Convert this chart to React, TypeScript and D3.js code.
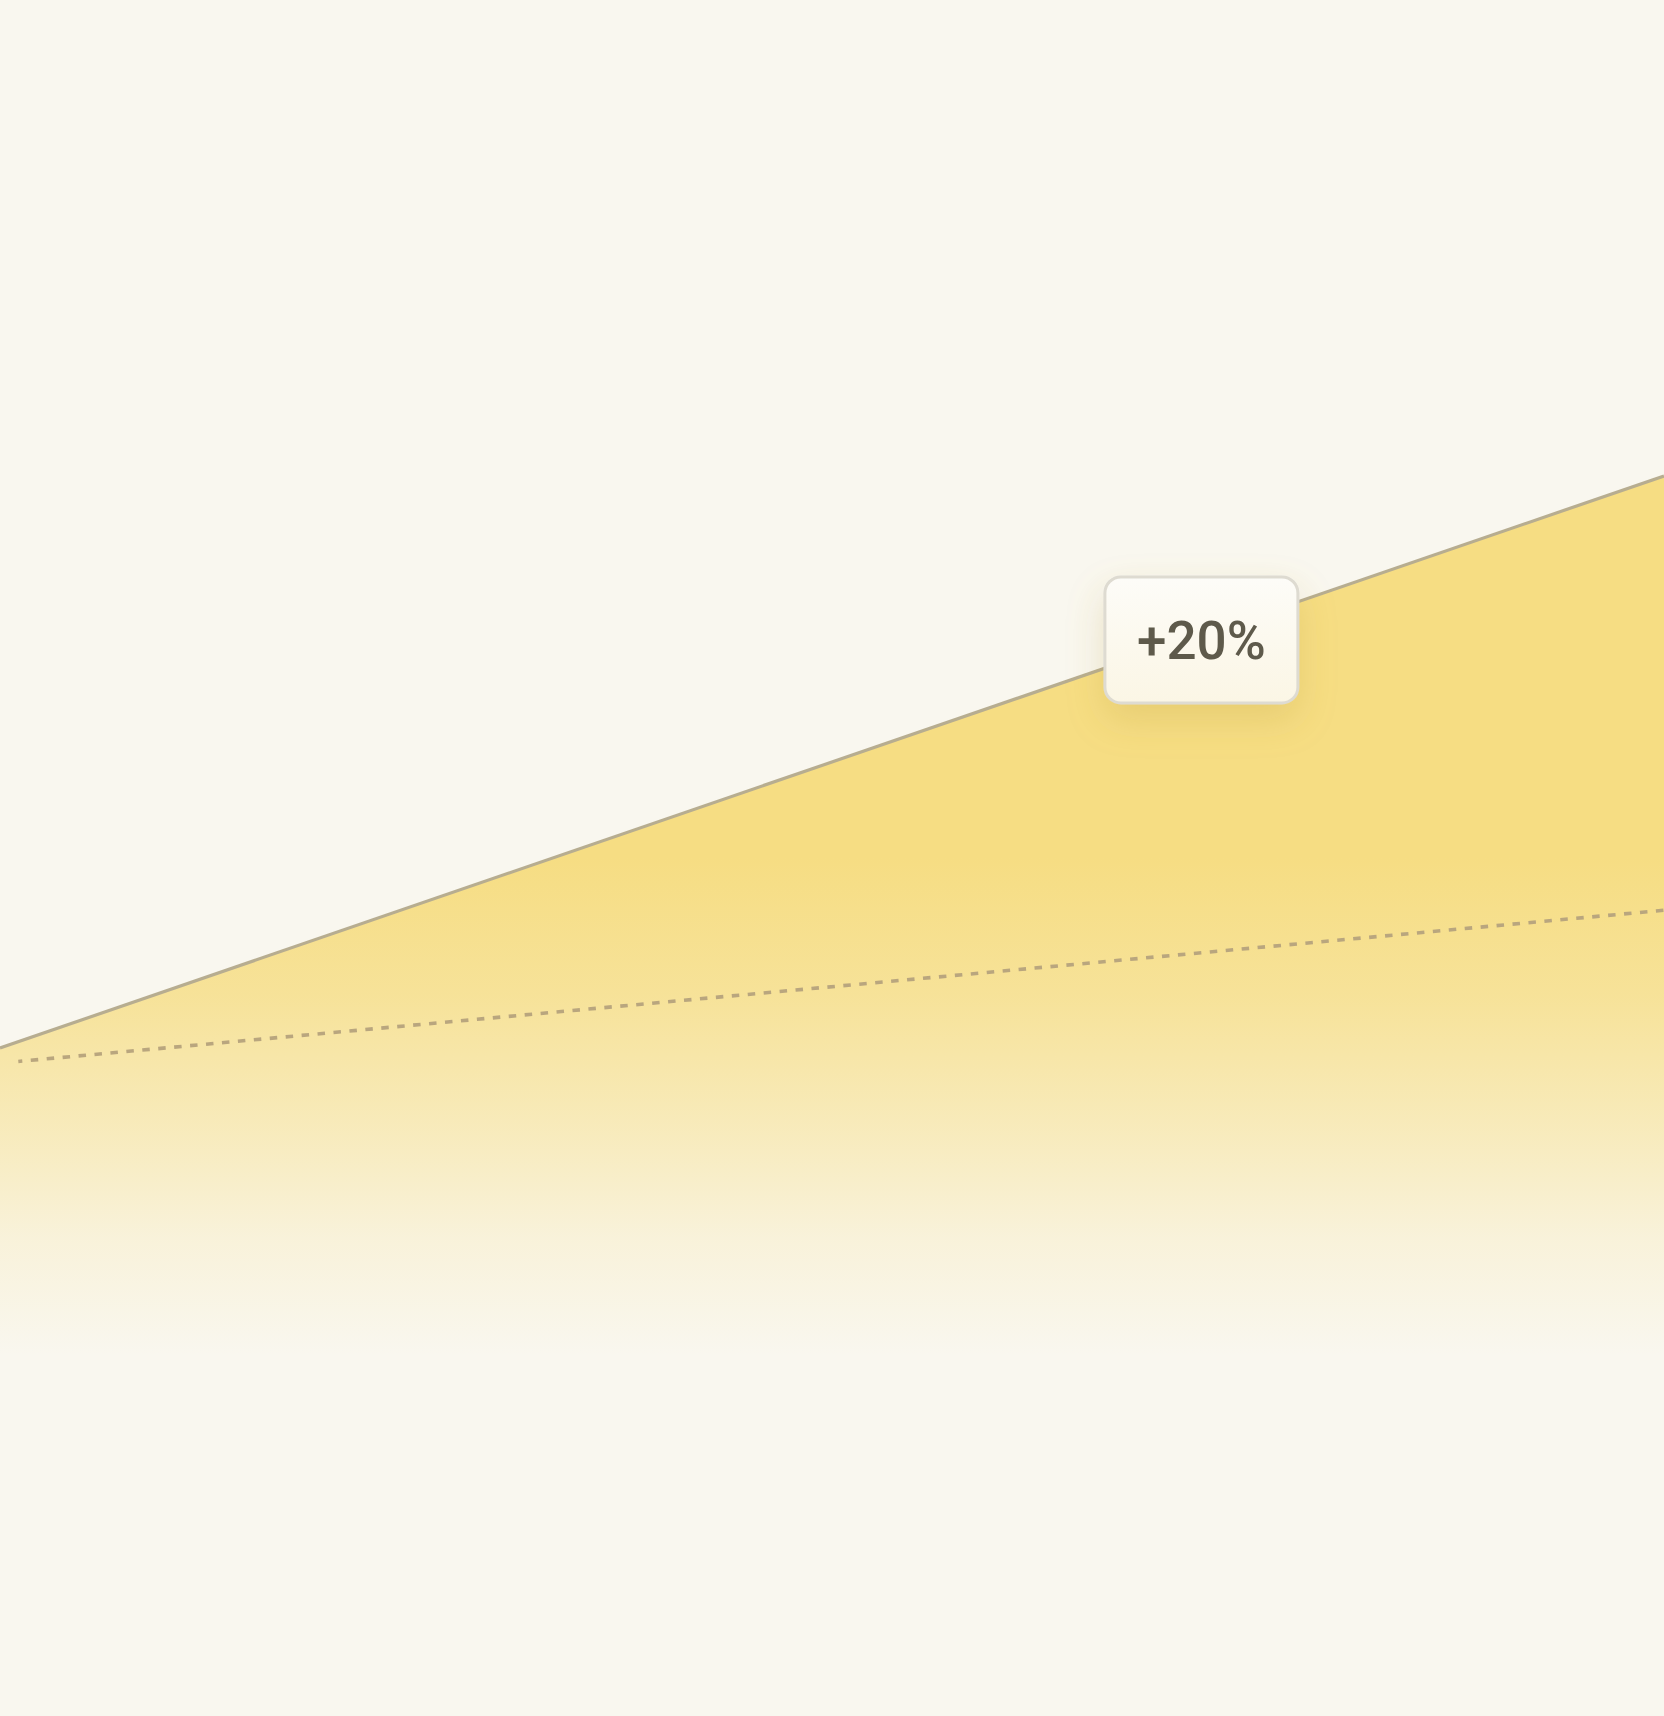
import { useEffect, useRef } from 'react';
import * as d3 from 'd3';

// x positions as a share of the run, y values on a 0–100 scale
const trendX = [0, 1];
const trendValues = [30, 98.1];
const baselineX = [0.011, 1];
const baselineValues = [28.4, 46.4];
const labelAt = 0.722;
const labelText = '+20%';

const width = 1664;
const height = 1716;

const App = (): JSX.Element => {
  const svgRef = useRef<SVGSVGElement>(null);

  useEffect(() => {
    if (svgRef.current) {
      svgRef.current.innerHTML = '';
    }
    const x = d3.scaleLinear([0, 1], [0, width]);
    const y = d3.scaleLinear([0, 100], [1300, 460]);

    const svg = d3
      .select(svgRef.current)
      .attr('width', width)
      .attr('height', height)
      .attr('viewBox', [0, 0, width, height]);

    const defs = svg.append('defs');

    // yellow fill that fades into the page toward the bottom
    const fade = defs
      .append('linearGradient')
      .attr('id', 'fade')
      .attr('gradientUnits', 'userSpaceOnUse')
      .attr('x1', 0)
      .attr('x2', 0)
      .attr('y1', 0)
      .attr('y2', height);
    [
      [0, 1],
      [0.5, 1],
      [0.58, 0.8],
      [0.66, 0.47],
      [0.72, 0.2],
      [0.79, 0]
    ].forEach(([o, a]) =>
      fade.append('stop').attr('offset', o).attr('stop-color', '#f6dd83').attr('stop-opacity', a)
    );

    const boxFill = defs
      .append('linearGradient')
      .attr('id', 'boxFill')
      .attr('x1', 0)
      .attr('x2', 0)
      .attr('y1', 0)
      .attr('y2', 1);
    boxFill.append('stop').attr('offset', 0).attr('stop-color', '#fdfcf8');
    boxFill.append('stop').attr('offset', 1).attr('stop-color', '#fbf6e5');

    const shadow = defs
      .append('filter')
      .attr('id', 'shadow')
      .attr('x', '-60%')
      .attr('y', '-60%')
      .attr('width', '220%')
      .attr('height', '220%');
    shadow
      .append('feDropShadow')
      .attr('dx', 0)
      .attr('dy', 16)
      .attr('stdDeviation', 18)
      .attr('flood-color', '#b89a3a')
      .attr('flood-opacity', 0.24);

    svg.append('rect').attr('width', width).attr('height', height).attr('fill', '#f9f7ef');

    const trend = trendX.map((d, i) => [d, trendValues[i]] as [number, number]);
    const baseline = baselineX.map((d, i) => [d, baselineValues[i]] as [number, number]);

    const area = d3
      .area<[number, number]>()
      .x((d) => x(d[0]))
      .y0(height)
      .y1((d) => y(d[1]));

    const line = d3
      .line<[number, number]>()
      .x((d) => x(d[0]))
      .y((d) => y(d[1]));

    svg.append('path').attr('d', area(trend)).attr('fill', 'url(#fade)');

    svg
      .append('path')
      .attr('d', line(baseline))
      .attr('fill', 'none')
      .attr('stroke', '#b9a67e')
      .attr('stroke-width', 3.6)
      .attr('stroke-dasharray', '7.5 8.5')
      .attr('stroke-dashoffset', 3.5);

    svg
      .append('path')
      .attr('d', line(trend))
      .attr('fill', 'none')
      .attr('stroke', '#b7ad90')
      .attr('stroke-width', 3.2);

    // percentage badge sitting on the trend line
    const cx = x(labelAt);
    const cy = y(trendValues[0] + (trendValues[1] - trendValues[0]) * labelAt) + 5;
    const bw = 193;
    const bh = 126;
    const badge = svg.append('g').attr('transform', `translate(${cx},${cy})`);
    badge
      .append('rect')
      .attr('x', -bw / 2)
      .attr('y', -bh / 2)
      .attr('width', bw)
      .attr('height', bh)
      .attr('rx', 16)
      .attr('fill', 'url(#boxFill)')
      .attr('stroke', '#dedbd1')
      .attr('stroke-width', 3)
      .attr('filter', 'url(#shadow)');
    badge
      .append('text')
      .attr('text-anchor', 'middle')
      .attr('y', 19)
      .attr('font-family', 'Roboto, "Liberation Sans", sans-serif')
      .attr('font-weight', 500)
      .attr('font-size', 53)
      .attr('fill', '#5e5a4b')
      .text(labelText);
  }, []);

  return (
    <div style={{ position: 'absolute', left: 0, top: 0 }}>
      <svg ref={svgRef} style={{ display: 'block' }} />
    </div>
  );
};

export default App;
